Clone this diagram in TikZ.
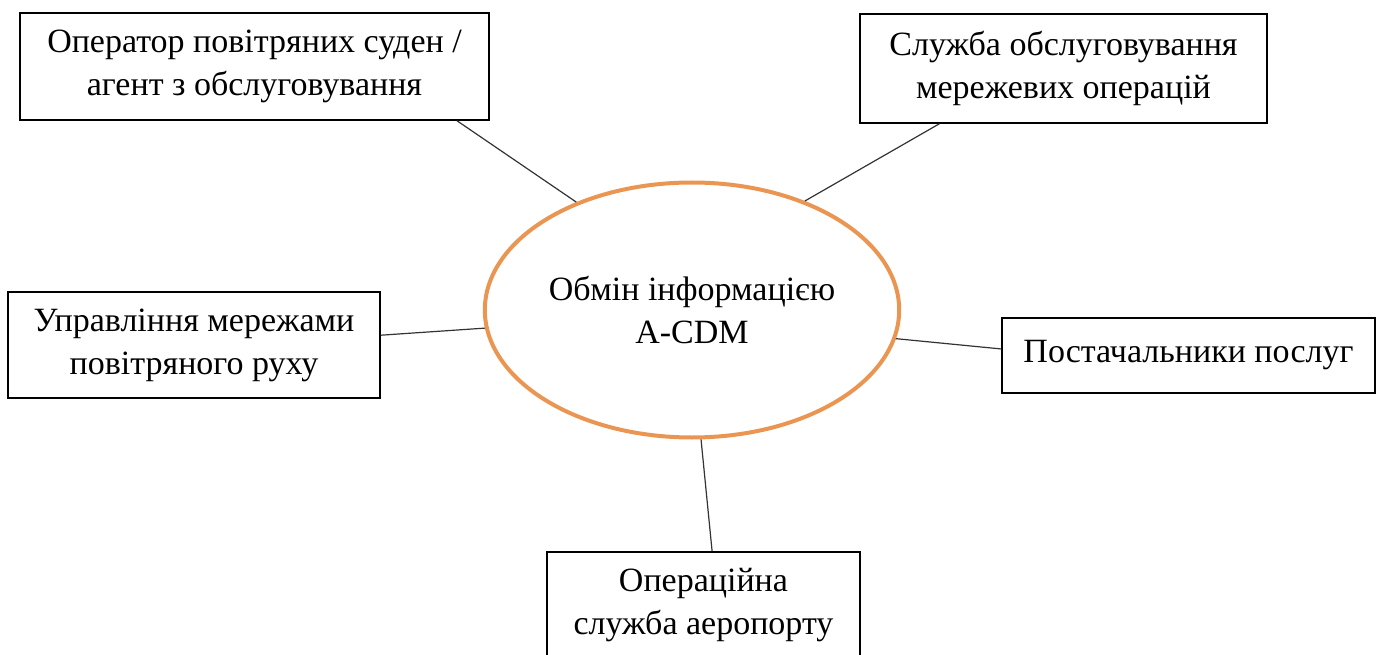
\documentclass[tikz,border=0pt]{standalone}
\usepackage{fontspec}
\setmainfont{Liberation Serif}
\usetikzlibrary{shapes.geometric}
\definecolor{cdmorange}{RGB}{234,150,82}
\tikzset{
    box/.style={draw, line width=1.5pt, align=center, inner sep=0pt},
    link/.style={line width=1.2pt, black!80},
}
\begin{document}
\begin{tikzpicture}[x=1pt, y=-1pt, font=\fontsize{34}{43}\selectfont]
    \clip (0,0) rectangle (1381,655);
    \node (cdm) at (692,310) [ellipse, draw=cdmorange, line width=4pt, minimum width=410pt, minimum height=255pt, align=center] {Обмін інформацією\\A-CDM}; % центр
    \node (oper) at (254.5,66.5) [box, minimum width=469pt, minimum height=107pt] {Оператор повітряних суден /\\агент з обслуговування};
    \node (nmo) at (1063.5,68.5) [box, minimum width=407pt, minimum height=109pt] {Служба обслуговування\\мережевих операцій};
    \node (atfm) at (194,345) [box, minimum width=372pt, minimum height=106pt] {Управління мережами\\повітряного руху};
    \node (prov) at (1188.5,355.5) [box, minimum width=373pt, minimum height=75pt] {Постачальники послуг};
    \node (apt) at (703.5,605.5) [box, minimum width=313pt, minimum height=107pt] {Операційна\\служба аеропорту};
    \draw[link] (oper.-15.7) -- (cdm.137.6);
    \draw[link] (nmo.-156.9) -- (cdm.44.2);
    \draw[link] (atfm.3.1) -- (cdm.-175.3);
    \draw[link] (prov.178.9) -- (cdm.-8.2);
    \draw[link] (apt.81) -- (cdm.-86.3);
\end{tikzpicture}
\end{document}
